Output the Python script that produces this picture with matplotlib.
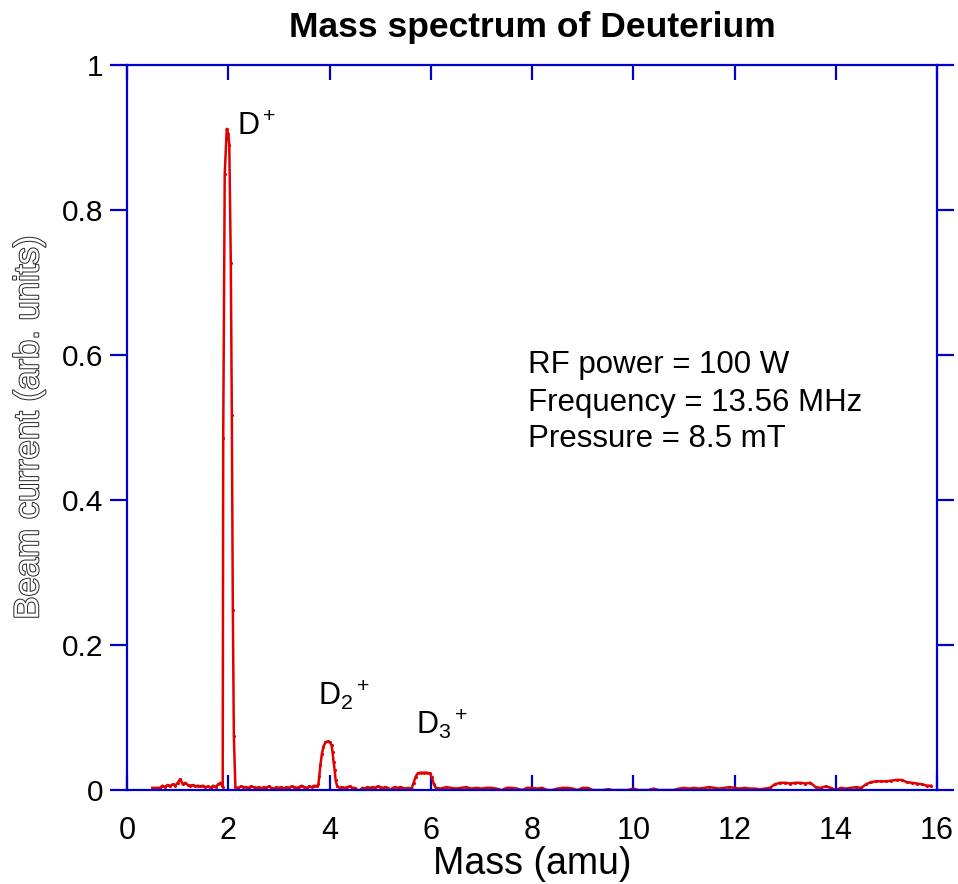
"""Mass spectrum of a deuterium RF plasma beam."""

import matplotlib

matplotlib.use("Agg")
import matplotlib.pyplot as plt
import matplotlib.patheffects as pe

# Measured spectrum: mass (amu) vs. beam current (arb. units)
mass = [
    0.50, 0.55, 0.60, 0.65, 0.70, 0.75, 0.80, 0.85, 0.90, 0.95,
    1.00, 1.05, 1.10, 1.15, 1.20, 1.25, 1.30, 1.35, 1.40, 1.45,
    1.50, 1.55, 1.60, 1.65, 1.70, 1.75, 1.80, 1.85, 1.89,
    1.90, 1.93, 1.97, 2.00, 2.02, 2.05, 2.07, 2.09, 2.11, 2.14,
    2.20, 2.25, 2.30, 2.35, 2.40, 2.45, 2.50, 2.55, 2.60, 2.65,
    2.70, 2.75, 2.80, 2.85, 2.90, 2.95, 3.00, 3.05, 3.10, 3.15,
    3.20, 3.25, 3.30, 3.35, 3.40, 3.45, 3.50, 3.55, 3.60, 3.65,
    3.70, 3.75,
    3.78, 3.80, 3.82, 3.85, 3.88, 3.92, 3.96, 4.00, 4.04, 4.06,
    4.08, 4.10, 4.12, 4.15,
    4.20, 4.25, 4.30, 4.35, 4.40, 4.45, 4.50, 4.55, 4.60, 4.65,
    4.70, 4.75, 4.80, 4.85, 4.90, 4.95, 5.00, 5.05, 5.10, 5.15,
    5.20, 5.25, 5.30, 5.35, 5.40, 5.45, 5.50, 5.55, 5.60,
    5.62, 5.66, 5.70, 5.74, 5.80, 5.86, 5.92, 5.98, 6.02, 6.06, 6.10,
    6.20, 6.30, 6.40, 6.50, 6.60, 6.70, 6.80, 6.90, 7.00, 7.10,
    7.20, 7.30, 7.40, 7.50, 7.60, 7.70, 7.80, 7.90, 8.00, 8.10,
    8.20, 8.30, 8.40, 8.50, 8.60, 8.70, 8.80, 8.90, 9.00, 9.10,
    9.20, 9.30, 9.40, 9.50, 9.60, 9.70, 9.80, 9.90, 10.00, 10.10,
    10.20, 10.30, 10.40, 10.50, 10.60, 10.70, 10.80, 10.90, 11.00, 11.10,
    11.20, 11.30, 11.40, 11.50, 11.60, 11.70, 11.80, 11.90, 12.00, 12.10,
    12.20, 12.30, 12.40, 12.50, 12.60, 12.70, 12.80, 12.90, 13.00, 13.10,
    13.20, 13.30, 13.40, 13.50, 13.60, 13.70, 13.80, 13.90, 14.00, 14.10,
    14.20, 14.30, 14.40, 14.50, 14.60, 14.70, 14.80, 14.90, 15.00, 15.10,
    15.20, 15.30, 15.40, 15.50, 15.60, 15.70, 15.80, 15.88,
]
current = [
    0.003, 0.003, 0.003, 0.003, 0.006, 0.004, 0.007, 0.005, 0.008, 0.006,
    0.010, 0.015, 0.008, 0.010, 0.007, 0.006, 0.007, 0.005, 0.006, 0.005,
    0.006, 0.004, 0.005, 0.003, 0.006, 0.004, 0.008, 0.010, 0.004,
    0.486, 0.850, 0.912, 0.905, 0.890, 0.727, 0.517, 0.248, 0.075, 0.004,
    0.003, 0.005, 0.004, 0.004, 0.003, 0.005, 0.004, 0.003, 0.004, 0.002,
    0.004, 0.003, 0.005, 0.003, 0.002, 0.004, 0.003, 0.004, 0.002, 0.004,
    0.003, 0.005, 0.004, 0.003, 0.004, 0.006, 0.004, 0.003, 0.005, 0.004,
    0.006, 0.005,
    0.008, 0.020, 0.035, 0.050, 0.060, 0.066, 0.067, 0.066, 0.062, 0.052,
    0.039, 0.028, 0.014, 0.005,
    0.003, 0.004, 0.003, 0.004, 0.005, 0.003, 0.003, 0.000, 0.000, 0.003,
    0.002, 0.004, 0.003, 0.004, 0.003, 0.005, 0.004, 0.003, 0.004, 0.003,
    0.000, 0.003, 0.004, 0.003, 0.004, 0.003, 0.002, 0.003, 0.002,
    0.002, 0.010, 0.018, 0.023, 0.024, 0.024, 0.024, 0.023, 0.018, 0.008, 0.003,
    0.002, 0.004, 0.003, 0.002, 0.003, 0.004, 0.002, 0.003, 0.002, 0.003,
    0.003, 0.002, 0.000, 0.003, 0.003, 0.002, 0.000, 0.003, 0.003, 0.002,
    0.003, 0.000, 0.000, 0.002, 0.003, 0.003, 0.002, 0.000, 0.003, 0.003,
    0.000, 0.000, 0.000, 0.001, 0.000, 0.000, 0.000, 0.000, 0.002, 0.000,
    0.000, 0.000, 0.002, 0.000, 0.000, 0.000, 0.000, 0.002, 0.003, 0.002,
    0.003, 0.002, 0.003, 0.004, 0.003, 0.002, 0.003, 0.004, 0.003, 0.002,
    0.003, 0.002, 0.002, 0.001, 0.002, 0.003, 0.008, 0.010, 0.010, 0.009,
    0.010, 0.010, 0.009, 0.010, 0.004, 0.003, 0.005, 0.003, 0.000, 0.003,
    0.002, 0.003, 0.004, 0.003, 0.008, 0.011, 0.012, 0.012, 0.012, 0.013,
    0.014, 0.014, 0.011, 0.010, 0.009, 0.008, 0.006, 0.006,
]

x_ticks = [0, 2, 4, 6, 8, 10, 12, 14, 16]
y_ticks = [0, 0.2, 0.4, 0.6, 0.8, 1]
y_tick_labels = ["0", "0.2", "0.4", "0.6", "0.8", "1"]

peak_labels = [r"D$^+$", r"D$_2$$^+$", r"D$_3$$^+$"]
peak_label_pos = [(2.17, 0.903), (3.77, 0.117), (5.71, 0.077)]

conditions = ["RF power = 100 W", "Frequency = 13.56 MHz", "Pressure = 8.5 mT"]
conditions_y = [0.575, 0.523, 0.473]

AXIS_BLUE = "#0000CC"
LINE_RED = "#E00000"

plt.rcParams["font.family"] = ["Liberation Sans", "DejaVu Sans"]
plt.rcParams["mathtext.fontset"] = "custom"
plt.rcParams["mathtext.rm"] = "Liberation Sans"
plt.rcParams["mathtext.it"] = "Liberation Sans"

fig = plt.figure(figsize=(9.58, 8.84), dpi=100)
ax = fig.add_axes([0.1326, 0.1063, 0.8455, 0.8201])

ax.plot(mass, current, color=LINE_RED, linewidth=1.8, marker=".",
        markersize=2.5)

ax.set_xlim(0, 16)
ax.set_ylim(0, 1)
ax.set_xticks(x_ticks)
ax.set_yticks(y_ticks)
ax.set_yticklabels(y_tick_labels)

for spine in ax.spines.values():
    spine.set_color(AXIS_BLUE)
    spine.set_linewidth(1.6)

ax.tick_params(axis="x", which="both", direction="in", top=True, bottom=True,
               length=11, width=1.6, color=AXIS_BLUE, labelsize=22, pad=19)
ax.tick_params(axis="y", which="both", direction="out", left=True, right=True,
               length=12, width=1.6, color=AXIS_BLUE, labelsize=21.5, pad=5)

ax.set_xlabel("Mass (amu)", fontsize=27, labelpad=0)
ax.set_ylabel("Beam current (arb. units)", fontsize=25, color="white",
              labelpad=12,
              path_effects=[pe.Stroke(linewidth=1.4, foreground="#222222"),
                            pe.Normal()])
ax.set_title("Mass spectrum of Deuterium", fontsize=25.5, fontweight="bold",
             pad=20)

for text, (tx, ty) in zip(peak_labels, peak_label_pos):
    ax.text(tx, ty, text, fontsize=22, ha="left", va="baseline")

for line, ly in zip(conditions, conditions_y):
    ax.text(7.92, ly, line, fontsize=22.5, ha="left", va="baseline")

fig.savefig("out.png", dpi=100)
